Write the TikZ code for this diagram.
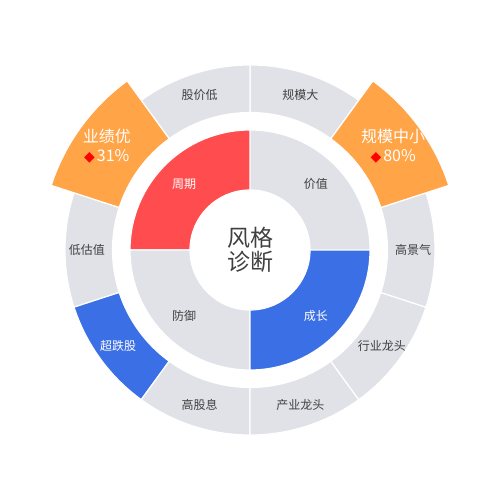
\documentclass[tikz,border=0pt]{standalone}
\usepackage{fontspec}
\setmainfont{Noto Sans CJK SC}
\newfontfamily\symfont{DejaVu Sans}
\definecolor{segred}{HTML}{FF4D4F}
\definecolor{segblue}{HTML}{3B6FE5}
\definecolor{segorange}{HTML}{FFA447}
\definecolor{seggrey}{HTML}{E1E2E8}
\definecolor{txtdark}{HTML}{404040}
\newcommand{\annsec}[5]{% color, a1, a2, r1, r2
  \filldraw[fill=#1,segborder] (#2:#4bp) arc[start angle=#2,end angle=#3,radius=#4bp]
    -- (#3:#5bp) arc[start angle=#3,end angle=#2,radius=#5bp] -- cycle;}
\tikzset{
  segborder/.style={draw=white,line width=1.2bp},
  darklbl/.style={text=txtdark,font=\fontsize{12bp}{14bp}\selectfont,inner sep=0pt},
  whitelbl/.style={text=white,font=\fontsize{12bp}{14bp}\selectfont,inner sep=0pt},
  hilbl/.style={text=white,font=\fontsize{16bp}{19bp}\selectfont,align=center,inner sep=0pt},
  centerlbl/.style={text=txtdark,font=\fontsize{23bp}{24bp}\selectfont,align=center,inner sep=0pt}
}
\begin{document}
\begin{tikzpicture}[x=1bp,y=1bp]
\useasboundingbox (0,0) rectangle (500,500);
\begin{scope}[shift={(250,250)}]
% inner quadrants
\annsec{seggrey}{0}{90}{60}{120}
\annsec{segred}{90}{180}{60}{120}
\annsec{seggrey}{180}{270}{60}{120}
\annsec{segblue}{270}{360}{60}{120}
% outer ring, 10 segments of 36 deg
\annsec{seggrey}{54}{90}{137.5}{185}
\annsec{seggrey}{90}{126}{137.5}{185}
\annsec{seggrey}{162}{198}{137.5}{185}
\annsec{segblue}{198}{234}{137.5}{185}
\annsec{seggrey}{234}{270}{137.5}{185}
\annsec{seggrey}{270}{306}{137.5}{185}
\annsec{seggrey}{306}{342}{137.5}{185}
\annsec{seggrey}{342}{378}{137.5}{185}
% highlighted segments
\annsec{segorange}{126}{162}{137.5}{209}
\annsec{segorange}{18}{54}{137.5}{209}
% inner labels
\node[whitelbl] (zhouqi) at (135:93bp) {周期};
\node[darklbl] (jiazhi) at (45:93bp) {价值};
\node[whitelbl] (chengzhang) at (-45:93bp) {成长};
\node[darklbl] (fangyu) at (225:93bp) {防御};
% outer labels
\node[darklbl] (guimoda) at (72:163bp) {规模大};
\node[darklbl] (gujiadi) at (108:163bp) {股价低};
\node[darklbl] (dgz) at (180:163bp) {低估值};
\node[whitelbl] (cdg) at (216:163bp) {超跌股};
\node[darklbl] (ggx) at (252:163bp) {高股息};
\node[darklbl] (cylt) at (288:163bp) {产业龙头};
\node[darklbl] (hylt) at (324:163bp) {行业龙头};
\node[darklbl] (gjq) at (0:163bp) {高景气};
% highlighted labels
\node[hilbl] (yjy) at (144:177bp) {业绩优\\{\color{red}\symfont\fontsize{14bp}{14bp}\selectfont ◆}\hspace{2bp}31\%};
\node[hilbl] (gmzx) at (36:177bp) {规模中小\\{\color{red}\symfont\fontsize{14bp}{14bp}\selectfont ◆}\hspace{2bp}80\%};
% centre
\node[centerlbl] (center) at (0,0) {风格\\诊断};
\end{scope}
\end{tikzpicture}
\end{document}
